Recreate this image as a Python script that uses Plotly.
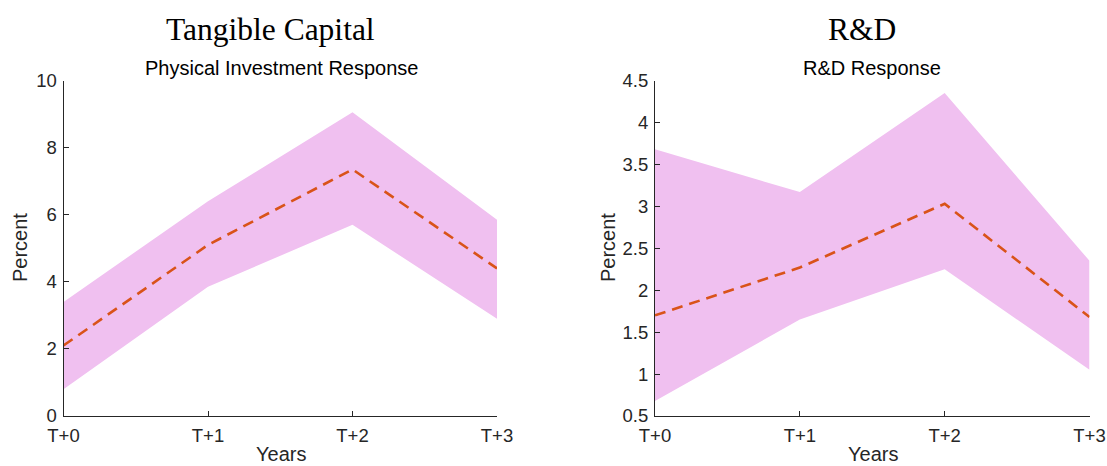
import plotly.graph_objects as go

years = ["T+0", "T+1", "T+2", "T+3"]
xpos = [0, 1, 2, 3]

phys_mean = [2.1, 5.1, 7.35, 4.4]
phys_upper = [3.4, 6.4, 9.05, 5.85]
phys_lower = [0.8, 3.85, 5.7, 2.9]

rd_mean = [1.7, 2.27, 3.03, 1.68]
rd_upper = [3.68, 3.17, 4.35, 2.35]
rd_lower = [0.68, 1.65, 2.25, 1.05]

phys_yticks = [0, 2, 4, 6, 8, 10]
rd_yticks = [0.5, 1, 1.5, 2, 2.5, 3, 3.5, 4, 4.5]

FILL = "rgb(240,192,240)"
LINE = "rgb(217,83,25)"
AX = "rgb(38,38,38)"
SANS = "Liberation Sans, Arial, sans-serif"
SERIF = "Liberation Serif, Times New Roman, serif"

fig = go.Figure()

def add_panel(mean, upper, lower, xa, ya):
    fig.add_trace(go.Scatter(x=xpos + xpos[::-1], y=upper + lower[::-1], fill="toself",
                             fillcolor=FILL, line=dict(width=0), mode="lines",
                             hoverinfo="skip", showlegend=False, xaxis=xa, yaxis=ya))
    fig.add_trace(go.Scatter(x=xpos, y=mean, mode="lines",
                             line=dict(color=LINE, width=2.6, dash="11px,7px"),
                             showlegend=False, xaxis=xa, yaxis=ya))

add_panel(phys_mean, phys_upper, phys_lower, "x", "y")
add_panel(rd_mean, rd_upper, rd_lower, "x2", "y2")

ydom = [1 - 416 / 466, 1 - 80.5 / 466]
common_x = dict(range=[0, 3], tickvals=xpos, ticktext=years, showline=True, linecolor=AX,
                linewidth=1, ticks="inside", ticklen=5, tickcolor=AX, showgrid=False,
                zeroline=False, tickfont=dict(family=SANS, size=18.5, color=AX), mirror=False,
                automargin=False, ticklabelstandoff=3)
common_y = dict(showline=True, linecolor=AX, linewidth=1, ticks="inside", ticklen=5,
                tickcolor=AX, showgrid=False, zeroline=False, automargin=False,
                tickfont=dict(family=SANS, size=18.5, color=AX), ticklabelstandoff=2)

fig.update_layout(
    template="none",
    width=1107, height=466, margin=dict(l=0, r=0, t=0, b=0),
    paper_bgcolor="white", plot_bgcolor="white",
    xaxis=dict(domain=[63.5 / 1107, 497 / 1107], anchor="y", **common_x),
    yaxis=dict(domain=ydom, anchor="x", range=[0, 10], tickvals=phys_yticks, **common_y),
    xaxis2=dict(domain=[655 / 1107, 1089.5 / 1107], anchor="y2", **common_x),
    yaxis2=dict(domain=ydom, anchor="x2", range=[0.5, 4.5], tickvals=rd_yticks,
                ticktext=[f"{v:g}" for v in rd_yticks], **common_y),
)

anns = [
    dict(text="Tangible Capital", x=270 / 1107, y=1 - 29 / 466, font=dict(family=SERIF, size=31.5, color="black")),
    dict(text="Physical Investment Response", x=281.5 / 1107, y=1 - 68 / 466, font=dict(family=SANS, size=20, color="black")),
    dict(text="R&D", x=862 / 1107, y=1 - 29 / 466, font=dict(family=SERIF, size=31.5, color="black")),
    dict(text="R&D Response", x=872 / 1107, y=1 - 68 / 466, font=dict(family=SANS, size=20, color="black")),
    dict(text="Years", x=281 / 1107, y=1 - 454 / 466, font=dict(family=SANS, size=20, color=AX)),
    dict(text="Years", x=873 / 1107, y=1 - 454 / 466, font=dict(family=SANS, size=20, color=AX)),
    dict(text="Percent", x=20 / 1107, y=1 - 248 / 466, textangle=-90, font=dict(family=SANS, size=20, color=AX)),
    dict(text="Percent", x=608 / 1107, y=1 - 248 / 466, textangle=-90, font=dict(family=SANS, size=20, color=AX)),
]
for a in anns:
    fig.add_annotation(xref="paper", yref="paper", showarrow=False, xanchor="center", yanchor="middle", **a)

fig.write_html("out.html")
